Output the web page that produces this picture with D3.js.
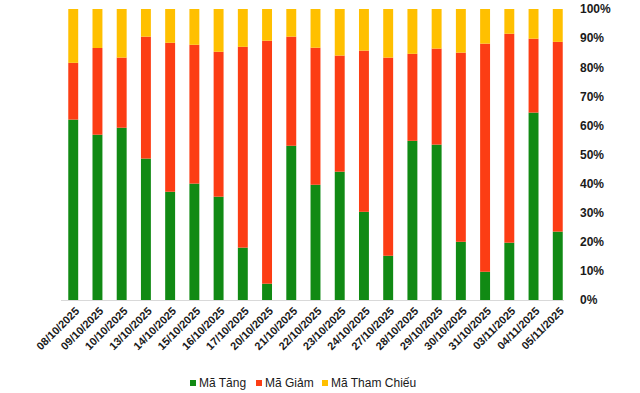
<!DOCTYPE html>
<html>
<head>
<meta charset="utf-8">
<script src="https://cdn.jsdelivr.net/npm/d3@7"></script>
<style>
    body { margin: 0; background: #fff; }
    svg { display: block; font-family: "Liberation Sans", Arial, sans-serif; }
</style>
</head>
<body>
<svg id="chart" width="640" height="393"></svg>
<script>
const dates = [
    "08/10/2025", "09/10/2025", "10/10/2025", "13/10/2025", "14/10/2025",
    "15/10/2025", "16/10/2025", "17/10/2025", "20/10/2025", "21/10/2025",
    "22/10/2025", "23/10/2025", "24/10/2025", "27/10/2025", "28/10/2025",
    "29/10/2025", "30/10/2025", "31/10/2025", "03/11/2025", "04/11/2025",
    "05/11/2025"
];

// share of codes, in %
const tang = [62.0, 56.8, 59.2, 48.6, 37.2, 40.0, 35.5, 18.0, 5.6, 53.0,
    39.6, 44.1, 30.3, 15.2, 54.7, 53.4, 20.0, 9.7, 19.7, 64.4, 23.5];
const giam = [19.5, 29.8, 24.1, 41.9, 51.2, 47.7, 49.8, 69.0, 83.5, 37.5,
    47.1, 39.9, 55.4, 68.1, 29.9, 33.0, 65.0, 78.4, 71.8, 25.4, 65.2];
const thamChieu = tang.map((t, i) => 100 - t - giam[i]);

const seriesNames = ["Mã Tăng", "Mã Giảm", "Mã Tham Chiếu"];
const colors = ["#118a14", "#fc3d14", "#ffc000"];
const yTicks = [0, 10, 20, 30, 40, 50, 60, 70, 80, 90, 100];

const rows = dates.map((d, i) => ({ date: d, tang: tang[i], giam: giam[i], tham: thamChieu[i] }));
const keys = ["tang", "giam", "tham"];

const svg = d3.select("#chart");
const plotTop = 9, plotBottom = 300, plotLeft = 61, plotRight = 570;

const x = d3.scaleBand().domain(dates).range([plotLeft, plotRight]).paddingInner(0.59).paddingOuter(0.3);
const y = d3.scaleLinear().domain([0, 100]).range([plotBottom, plotTop]);

const stack = d3.stack().keys(keys)(rows);

svg.append("g").selectAll("g")
    .data(stack)
    .join("g")
    .attr("fill", (d, i) => colors[i])
    .selectAll("rect")
    .data(d => d)
    .join("rect")
    .attr("x", d => x(d.data.date))
    .attr("width", x.bandwidth())
    .attr("y", d => y(d[1]))
    .attr("height", d => y(d[0]) - y(d[1]));

// baseline
svg.append("line")
    .attr("x1", plotLeft).attr("x2", 564)
    .attr("y1", plotBottom + 0.5).attr("y2", plotBottom + 0.5)
    .attr("stroke", "#d9d9d9");

// right-hand percent labels
const yAxis = d3.axisRight(y)
    .tickValues(yTicks)
    .tickFormat(d => d + "%")
    .tickSize(0)
    .tickPadding(0);

const yg = svg.append("g")
    .attr("transform", "translate(580,0)")
    .call(yAxis);
yg.select(".domain").remove();
yg.selectAll("text")
    .attr("font-size", 12)
    .attr("font-weight", "bold")
    .attr("fill", "#1a1a1a")
    .attr("font-family", "Liberation Sans, Arial, sans-serif");

// rotated date labels
const xAxis = d3.axisBottom(x).tickSize(0).tickPadding(0);
const xg = svg.append("g")
    .attr("transform", `translate(0,${plotBottom})`)
    .call(xAxis);
xg.select(".domain").remove();
xg.selectAll("text")
    .attr("font-size", 11)
    .attr("font-weight", "bold")
    .attr("fill", "#1a1a1a")
    .attr("font-family", "Liberation Sans, Arial, sans-serif")
    .attr("text-anchor", "end")
    .attr("dy", "0.35em")
    .attr("transform", "translate(4,9) rotate(-45)");

// legend
const legendX = [190, 256, 322];
const legend = svg.append("g").selectAll("g")
    .data(seriesNames)
    .join("g")
    .attr("transform", (d, i) => `translate(${legendX[i]},383)`);

legend.append("rect")
    .attr("x", 0).attr("y", -3)
    .attr("width", 6).attr("height", 6)
    .attr("fill", (d, i) => colors[i]);

legend.append("text")
    .attr("x", 9)
    .attr("dy", "0.35em")
    .attr("font-size", 12)
    .attr("fill", "#1a1a1a")
    .text(d => d);
</script>
</body>
</html>
